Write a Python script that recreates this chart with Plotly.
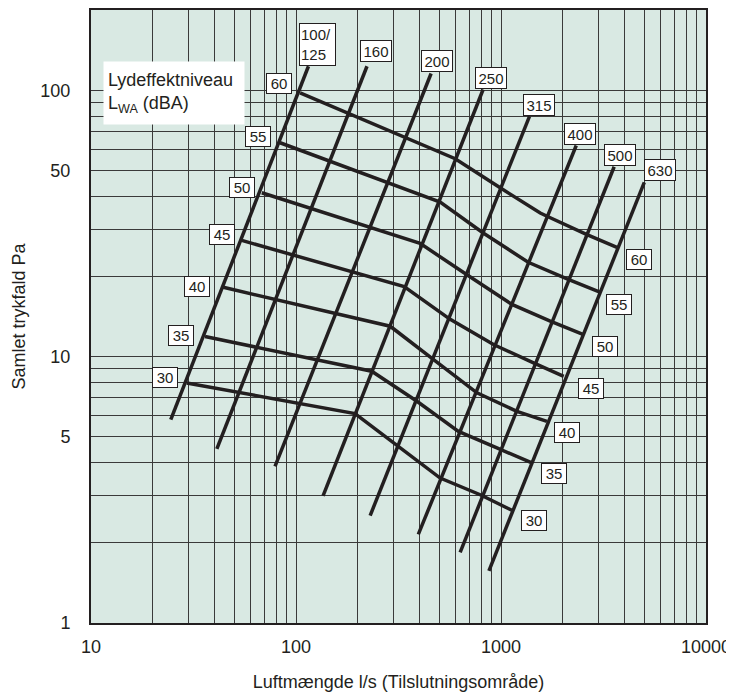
import math
import plotly.graph_objects as go

# Kanaldimensioner (mm) - rette linjer i log/log, nederste og øverste punkt
DUCT_LABELS = ["100/<br>125", "160", "200", "250", "315", "400", "500", "630"]
DUCT_Q_LOW = [24.5, 41.1, 79, 135.5, 230, 395, 632, 873]
DUCT_DP_LOW = [5.8, 4.5, 3.87, 3.0, 2.53, 2.15, 1.84, 1.57]
DUCT_Q_HIGH = [115, 222, 456, 818, 1377, 2328, 3565, 5000]
DUCT_DP_HIGH = [123, 123, 115.5, 100.6, 79.8, 62, 51.6, 45.1]

# Lydeffektniveau LWA (dBA) - kurver
LWA_LEVELS = ["30", "35", "40", "45", "50", "55", "60"]
Q_30 = [29.3, 194, 505, 792, 1130]
DP_30 = [7.96, 6.11, 3.50, 3.03, 2.65]
Q_35 = [36.0, 234, 389, 620, 955, 1415]
DP_35 = [11.9, 8.81, 6.80, 5.24, 4.54, 3.99]
Q_40 = [44.2, 288, 469, 763, 1196, 1675]
DP_40 = [18.2, 13.0, 9.74, 7.31, 6.23, 5.71]
Q_45 = [54.4, 337, 565, 919, 1441, 2023]
DP_45 = [27.3, 18.3, 13.8, 11.1, 9.47, 8.43]
Q_50 = [68.1, 403, 682, 1130, 1739, 2527]
DP_50 = [41.2, 26.6, 20.3, 15.7, 13.6, 12.1]
Q_55 = [83.6, 505, 819, 1357, 2128, 3015]
DP_55 = [63.5, 38.0, 29.1, 22.6, 19.5, 17.5]
Q_60 = [104.7, 598, 991, 1554, 1739, 2626, 3678]
DP_60 = [97.8, 55.3, 43.0, 34.6, 33.2, 28.7, 25.7]

X_TICKS = [10, 100, 1000, 10000]
X_MINOR = [d * 10 ** n for n in (1, 2, 3) for d in range(2, 10)]
Y_TICKS = [1, 5, 10, 50, 100]
Y_MINOR = [d * 10 ** n for n in (0, 1) for d in (2, 3, 4, 6, 7, 8, 9)]

LWA_Q = [Q_30, Q_35, Q_40, Q_45, Q_50, Q_55, Q_60]
LWA_DP = [DP_30, DP_35, DP_40, DP_45, DP_50, DP_55, DP_60]

INK = "#231f20"
BG = "#d9e9e3"
GRID = "#3a3a3a"
FONT = "Liberation Sans, Arial, sans-serif"

# label-forskydninger i pixel
DUCT_XSHIFT = [-9, -7, -10, -8, -6, -12, -10, 0]
DUCT_YSHIFT = [0, 4, 2, 1, 0, 1, 1, 1]
LEFT_SHIFT = [(-22, 5), (-24, 1), (-26, 1), (-20, 6), (-20, 5), (-22, 6), (-21, 9)]
RIGHT_SHIFT = [(22, -10), (22, -11), (20, -11), (27, -12), (21, -12), (20, -13), (22, -12)]

fig = go.Figure()

for i in range(len(DUCT_LABELS)):
    fig.add_trace(go.Scatter(x=[DUCT_Q_LOW[i], DUCT_Q_HIGH[i]], y=[DUCT_DP_LOW[i], DUCT_DP_HIGH[i]],
                             mode="lines", line=dict(color=INK, width=3.5), hoverinfo="skip"))

for q, dp in zip(LWA_Q, LWA_DP):
    fig.add_trace(go.Scatter(x=q, y=dp, mode="lines", line=dict(color=INK, width=3.5), hoverinfo="skip"))

box = dict(bgcolor="white", bordercolor=INK, borderwidth=1, showarrow=False,
           font=dict(family=FONT, size=15, color=INK))

for i, lab in enumerate(DUCT_LABELS):
    two = "<br>" in lab
    fig.add_annotation(x=math.log10(DUCT_Q_HIGH[i]), y=math.log10(DUCT_DP_HIGH[i]), text=lab,
                       xanchor="left", yanchor="bottom", xshift=DUCT_XSHIFT[i], yshift=DUCT_YSHIFT[i],
                       width=33 if two else 28, height=39 if two else 18, borderpad=1,
                       align="left" if two else "center", **box)

for i, lab in enumerate(LWA_LEVELS):
    q, dp = LWA_Q[i], LWA_DP[i]
    fig.add_annotation(x=math.log10(q[0]), y=math.log10(dp[0]), text=lab,
                       xshift=LEFT_SHIFT[i][0], yshift=LEFT_SHIFT[i][1],
                       width=22, height=17, borderpad=1, **box)
    fig.add_annotation(x=math.log10(q[-1]), y=math.log10(dp[-1]), text=lab,
                       xshift=RIGHT_SHIFT[i][0], yshift=RIGHT_SHIFT[i][1],
                       width=22, height=17, borderpad=1, **box)

fig.add_annotation(xref="paper", yref="paper", x=0.0195, y=0.9168, xanchor="left", yanchor="top",
                   text="Lydeffektniveau<br>L<sub>WA</sub> (dBA)", align="left", showarrow=False,
                   width=132, height=54, borderpad=4, bgcolor="white",
                   font=dict(family=FONT, size=18, color=INK))

axis = dict(type="log", showgrid=True, gridcolor=GRID, gridwidth=1, zeroline=False,
            showline=True, linecolor=INK, linewidth=2, mirror=True, automargin=False,
            ticks="outside", tickcolor="rgba(0,0,0,0)",
            tickfont=dict(family=FONT, size=18, color=INK))

# siden har 8 px body-margen, så figuren gøres 8 px mindre
fig.update_layout(
    width=726, height=687,
    margin=dict(l=83, r=28, t=2, b=72),
    paper_bgcolor="white", plot_bgcolor=BG,
    showlegend=False,
    font=dict(family=FONT, size=18, color=INK),
    xaxis=dict(axis, range=[1, 4], tickvals=X_TICKS, ticktext=[str(v) for v in X_TICKS], ticklen=6,
               minor=dict(tickvals=X_MINOR, showgrid=True, gridcolor=GRID, gridwidth=1, ticklen=0),
               title=dict(text="Luftmængde l/s (Tilslutningsområde)", standoff=20,
                          font=dict(family=FONT, size=18, color=INK))),
    yaxis=dict(axis, range=[0, math.log10(200)], tickvals=Y_TICKS, ticktext=[str(v) for v in Y_TICKS],
               ticklen=15,
               minor=dict(tickvals=Y_MINOR, showgrid=True, gridcolor=GRID, gridwidth=1, ticklen=0),
               title=dict(text="Samlet trykfald Pa", standoff=10,
                          font=dict(family=FONT, size=18, color=INK))),
)

fig.write_html("out.html")
